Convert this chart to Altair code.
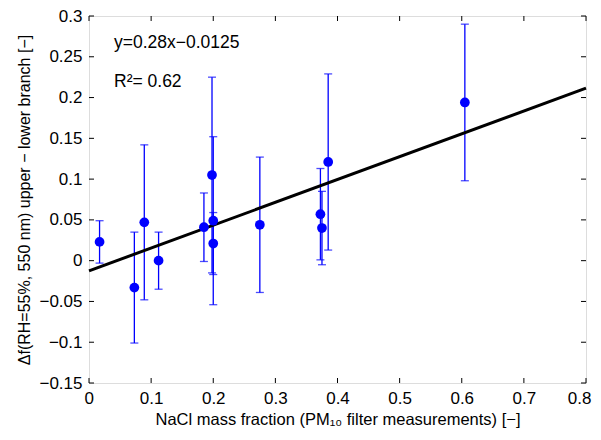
import altair as alt
import pandas as pd

# data
nacl = [0.017, 0.073, 0.089, 0.112, 0.185, 0.198, 0.200, 0.200, 0.275, 0.3725, 0.375, 0.385, 0.605]
delta_f = [0.023, -0.033, 0.047, 0.000, 0.041, 0.105, 0.049, 0.021, 0.044, 0.057, 0.040, 0.121, 0.194]
err = [0.026, 0.068, 0.095, 0.035, 0.042, 0.120, 0.103, 0.038, 0.083, 0.056, 0.045, 0.108, 0.096]

fit_slope = 0.28
fit_intercept = -0.0125
fit_x = [0.0, 0.8]

x_ticks = [0, 0.1, 0.2, 0.3, 0.4, 0.5, 0.6, 0.7, 0.8]
y_ticks = [-0.15, -0.1, -0.05, 0, 0.05, 0.1, 0.15, 0.2, 0.25, 0.3]

eq_text = "y=0.28x\u22120.0125"
r2_text = "R\u00b2= 0.62"
x_title = "NaCl mass fraction (PM\u2081\u2080 filter measurements) [\u2212]"
y_title = "\u0394f(RH=55%, 550 nm) upper \u2212 lower branch [\u2212]"

W, H = 497, 367
FONT = "Liberation Sans"
BLUE = "#0000ff"

df = pd.DataFrame({"x": nacl, "y": delta_f, "e": err})
df["lo"] = df["y"] - df["e"]
df["hi"] = df["y"] + df["e"]

xs = alt.Scale(domain=[0, 0.8], nice=False, zero=False)
ys = alt.Scale(domain=[-0.15, 0.3], nice=False, zero=False)

xaxis = alt.Axis(values=x_ticks, format="~g", grid=False, ticks=False, domain=False,
                 labelFontSize=17, labelFont=FONT, labelColor="black", labelPadding=7,
                 title=x_title, titleFont=FONT, titleFontSize=16.5, titleFontWeight="normal",
                 titleColor="black", titlePadding=5, labelFlush=True, labelFlushOffset=5)
yaxis = alt.Axis(values=y_ticks, format="~g", grid=False, ticks=False, domain=False,
                 labelFontSize=17, labelFont=FONT, labelColor="black", labelPadding=7,
                 title=y_title, titleFont=FONT, titleFontSize=16, titleFontWeight="normal",
                 titleColor="black", titlePadding=6, labelFlush=False)

base = alt.Chart(df)

bars = base.mark_rule(color=BLUE, strokeWidth=1.3).encode(
    x=alt.X("x:Q", scale=xs, axis=xaxis),
    y=alt.Y("lo:Q", scale=ys, axis=yaxis),
    y2="hi:Q",
)
cap_hi = base.mark_tick(color=BLUE, orient="horizontal", size=8, thickness=1.3).encode(
    x=alt.X("x:Q", scale=xs), y=alt.Y("hi:Q", scale=ys))
cap_lo = base.mark_tick(color=BLUE, orient="horizontal", size=8, thickness=1.3).encode(
    x=alt.X("x:Q", scale=xs), y=alt.Y("lo:Q", scale=ys))
pts = base.mark_circle(color=BLUE, size=95, opacity=1).encode(
    x=alt.X("x:Q", scale=xs), y=alt.Y("y:Q", scale=ys))

fit = alt.Chart(pd.DataFrame({"fx": fit_x})).transform_calculate(
    fy=f"{fit_slope} * datum.fx + ({fit_intercept})"
).mark_line(color="black", strokeWidth=3).encode(
    x=alt.X("fx:Q", scale=xs), y=alt.Y("fy:Q", scale=ys))

xt = alt.Chart(pd.DataFrame({"t": x_ticks}))
yt = alt.Chart(pd.DataFrame({"t": y_ticks}))
tick_b = xt.mark_rule(color="black", strokeWidth=1).encode(
    x=alt.X("t:Q", scale=xs), y=alt.value(H), y2=alt.value(H - 5))
tick_t = xt.mark_rule(color="black", strokeWidth=1).encode(
    x=alt.X("t:Q", scale=xs), y=alt.value(0), y2=alt.value(5))
tick_l = yt.mark_rule(color="black", strokeWidth=1).encode(
    y=alt.Y("t:Q", scale=ys), x=alt.value(0), x2=alt.value(5))
tick_r = yt.mark_rule(color="black", strokeWidth=1).encode(
    y=alt.Y("t:Q", scale=ys), x=alt.value(W), x2=alt.value(W - 5))

txt = alt.Chart(pd.DataFrame({"label": [eq_text, r2_text], "py": [27, 66]})).mark_text(
    align="left", baseline="middle", font=FONT, fontSize=17.5, color="black"
).encode(text="label:N", x=alt.value(25), y=alt.Y("py:Q", scale=None))

chart = alt.layer(bars, cap_hi, cap_lo, fit, pts, tick_b, tick_t, tick_l, tick_r, txt).properties(
    width=W, height=H,
    autosize=alt.AutoSizeParams(type="none"),
    padding={"left": 81, "top": 8, "right": 7, "bottom": 49},
).configure_view(stroke="black", strokeWidth=1.2).configure(background="white")

chart.save("out.html", embed_options={"renderer": "svg", "actions": False})
